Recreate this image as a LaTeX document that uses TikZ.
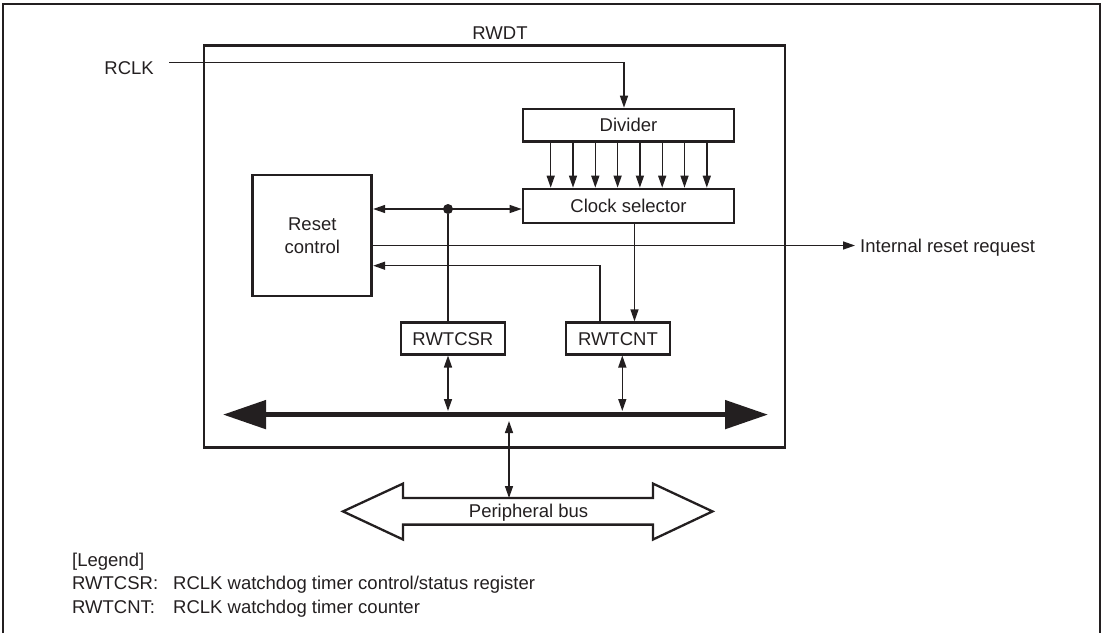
\documentclass[tikz,border=0pt]{standalone}
\usepackage{fontspec}
\setmainfont{Liberation Sans}
\usetikzlibrary{arrows.meta}
\definecolor{ink}{RGB}{35,31,32}
\begin{document}
\begin{tikzpicture}[x=1pt,y=-1pt,
  every node/.style={text=ink},
  font=\fontsize{18.5}{23.5}\selectfont,
  box/.style={draw=ink,line width=2.7pt,inner sep=0pt,text height=13.2pt,text depth=0pt},
  bigbox/.style={draw=ink,line width=2.7pt,inner sep=0pt,align=center},
  txt/.style={inner sep=0pt,text height=13.2pt,text depth=0pt},
  conn/.style={draw=ink,line width=1.4pt},
  tip/.style={-{Triangle[length=12pt,width=8pt]}},
  dtip/.style={{Triangle[length=12pt,width=8pt]}-{Triangle[length=12pt,width=8pt]}},
]
\useasboundingbox (0,0) rectangle (1103,633);
% outer frame (open at the bottom)
\draw[ink,line width=2.5pt] (3,633) -- (3,4) -- (1100,4) -- (1100,633);

% RWDT block
\node[box,minimum width=581pt,minimum height=402pt] (rwdt) at (494.5,246.8) {};
\node[txt] (rwdtlbl) at (500,33.3) {RWDT};

% RCLK input
\node[txt,anchor=east] (rclk) at (154,67.7) {RCLK};
\coordinate (rclkstart) at (169,62.7);

% Divider and clock selector
\node[box,minimum width=211pt,minimum height=32.5pt] (div) at (628.5,125.3) {Divider};
\node[box,minimum width=211pt,minimum height=34pt] (sel) at (628.5,206) {Clock selector};
\draw[conn,tip] (rclkstart) -| ([xshift=-4.5pt]div.north);
\foreach \o in {-77.8,-55.5,-33.2,-10.9,11.4,33.7,56.0,78.3}
  \draw[conn,tip] ([xshift=\o pt]div.south) -- ([xshift=\o pt]sel.north);

% Reset control
\node[bigbox,minimum width=119pt,minimum height=121pt] (rst) at (312.3,235.5) {Reset\\control};

% Registers
\node[box,minimum width=104pt,minimum height=31.5pt] (csr) at (452.9,338.4) {RWTCSR};
\node[box,minimum width=104pt,minimum height=31.5pt] (cnt) at (617.9,338.4) {RWTCNT};

% junction dot and connections
\node[circle,fill=ink,inner sep=0pt,minimum size=10pt] (dot) at (448,209) {};
\draw[conn,dtip] (rst.east |- dot) -- (sel.west |- dot);
\draw[conn] (dot) -- (dot |- csr.north);
\draw[conn,tip] ([xshift=6pt]sel.south) -- ([xshift=6pt]sel.south |- cnt.north);
\draw[conn,tip] ([xshift=-18pt]cnt.north) |- ([yshift=-30.2pt]rst.east);

% Internal reset request
\node[txt,anchor=west] (irr) at (860,245.5) {Internal reset request};
\draw[conn,tip,shorten >=5pt] ([yshift=-10pt]rst.east) -- (irr.west);

% Internal bus
\coordinate (busL) at (223,414.6);
\coordinate (busR) at (768,414.6);
\coordinate (busTop) at (0,411);
\draw[ink,line width=5pt,{Triangle[length=43pt,width=28pt]}-{Triangle[length=43pt,width=28pt]}] (busL) -- (busR);
\draw[conn,dtip] (dot |- csr.south) -- (dot |- busTop);
\draw[conn,dtip] ([xshift=4.4pt]cnt.south) -- ([xshift=4.4pt]cnt.south |- busTop);

% Peripheral bus
\coordinate (busBot) at (509,421);
\coordinate (pbTop) at (509,498);
\draw[conn,dtip] (busBot) -- (pbTop);
\draw[ink,line width=2.3pt,line join=miter] (343,511.4) -- (403,483.6) -- (403,498) -- (653,498) -- (653,483.6) -- (712.5,511.4) -- (653,539.5) -- (653,524.6) -- (403,524.6) -- (403,539.5) -- cycle;
\node[txt] (pb) at (528.6,511.3) {Peripheral bus};

% Legend
\node[txt,anchor=west] (lg) at (72,559.7) {[Legend]};
\node[txt,anchor=west] (l1a) at (72,583.3) {RWTCSR:};
\node[txt,anchor=west] (l1b) at (173,583.3) {RCLK watchdog timer control/status register};
\node[txt,anchor=west] (l2a) at (72,606.7) {RWTCNT:};
\node[txt,anchor=west] (l2b) at (173,606.7) {RCLK watchdog timer counter};
\end{tikzpicture}
\end{document}
